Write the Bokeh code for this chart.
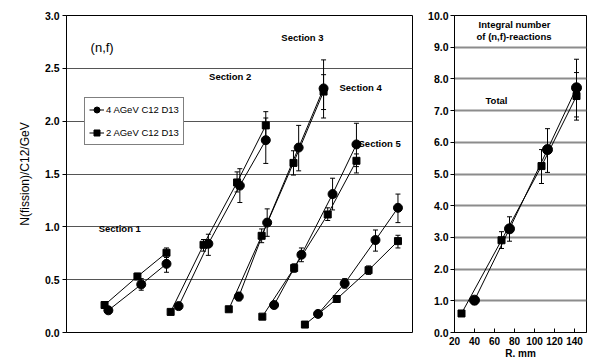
from bokeh.plotting import figure
from bokeh.models import (ColumnDataSource, Range1d, Whisker, TeeHead, Legend,
                          LegendItem, Label, FixedTicker, CustomJSTickFormatter)
from bokeh.layouts import row
from bokeh.embed import file_html
from bokeh.resources import INLINE

FONT = "Liberation Sans"

# ---------------- Left panel data (position along section, arbitrary units) ----
sections = ["Section 1", "Section 2", "Section 3", "Section 4", "Section 5"]

sq_x = [[11.0, 20.5, 28.9],
        [30.1, 39.6, 49.3, 57.6],
        [46.9, 56.4, 65.6, 74.3],
        [56.6, 65.8, 75.5, 83.8],
        [68.9, 78.1, 87.3, 95.8]]
sq_y = [[0.26, 0.53, 0.755],
        [0.195, 0.83, 1.42, 1.96],
        [0.22, 0.915, 1.605, 2.28],
        [0.15, 0.61, 1.117, 1.625],
        [0.075, 0.317, 0.59, 0.865]]
sq_lo = [[None, 0.50, 0.71],
         [None, 0.77, 1.33, 1.83],
         [None, 0.85, 1.49, 2.11],
         [None, 0.57, 1.06, 1.51],
         [None, None, 0.55, 0.80]]
sq_hi = [[None, 0.56, 0.80],
         [None, 0.88, 1.52, 2.09],
         [None, 0.98, 1.72, 2.44],
         [None, 0.65, 1.18, 1.69],
         [None, None, 0.63, 0.92]]

ci_x = [[12.1, 21.6, 28.9],
        [32.4, 41.0, 50.1, 57.6],
        [49.8, 58.0, 67.1, 74.3],
        [60.0, 67.9, 76.9, 83.8],
        [72.7, 80.4, 89.3, 95.8]]
ci_y = [[0.21, 0.455, 0.65],
        [0.25, 0.84, 1.39, 1.82],
        [0.34, 1.04, 1.75, 2.31],
        [0.26, 0.736, 1.31, 1.78],
        [0.176, 0.464, 0.875, 1.18]]
ci_lo = [[None, 0.40, 0.57],
         [None, 0.73, 1.23, 1.60],
         [0.30, 0.91, 1.53, 2.03],
         [None, 0.67, 1.16, 1.57],
         [None, 0.42, 0.77, 1.04]]
ci_hi = [[None, 0.51, 0.73],
         [None, 0.93, 1.55, 2.03],
         [0.38, 1.17, 1.96, 2.58],
         [None, 0.80, 1.46, 1.98],
         [None, 0.51, 0.97, 1.31]]

left_ticks = [0.0, 0.5, 1.0, 1.5, 2.0, 2.5, 3.0]

# ---------------- Right panel data ------------------------------------------
r_sq_x = [27, 67, 107, 142]
r_sq_y = [0.6, 2.91, 5.25, 7.46]
r_sq_lo = [None, 2.65, 4.70, 6.70]
r_sq_hi = [None, 3.18, 5.77, 8.20]
r_ci_x = [40, 75, 113, 142]
r_ci_y = [1.02, 3.27, 5.77, 7.72]
r_ci_lo = [0.88, 2.88, 5.05, 6.80]
r_ci_hi = [1.12, 3.65, 6.43, 8.62]
right_yticks = [0, 1, 2, 3, 4, 5, 6, 7, 8, 9, 10]
right_xticks = [20, 40, 60, 80, 100, 120, 140]

series_names = ["4 AGeV C12 D13", "2 AGeV C12 D13"]


def whisker_source(xs, lo, hi):
    bx, bl, bh = [], [], []
    for x, l, h in zip(xs, lo, hi):
        if l is not None:
            bx.append(x); bl.append(l); bh.append(h)
    return ColumnDataSource(dict(x=bx, lo=bl, hi=bh))


def add_whisker(p, xs, lo, hi):
    src = whisker_source(xs, lo, hi)
    w = Whisker(base="x", lower="lo", upper="hi", source=src,
                line_color="black", line_width=1,
                lower_head=TeeHead(size=5, line_color="black", line_width=1),
                upper_head=TeeHead(size=5, line_color="black", line_width=1))
    p.add_layout(w)


def style_axis(ax):
    ax.major_label_text_font = FONT
    ax.major_label_text_font_style = "bold"
    ax.major_label_text_font_size = "10.5px"
    ax.major_label_text_color = "black"
    ax.axis_line_color = "black"
    ax.major_tick_line_color = "black"
    ax.minor_tick_line_color = None


# ---------------- Left figure ------------------------------------------------
p1 = figure(width=420, height=361, output_backend="svg", toolbar_location=None,
            x_range=Range1d(0, 100), y_range=Range1d(0, 3),
            min_border_left=66, min_border_right=8, min_border_top=14,
            min_border_bottom=29)
p1.xaxis.visible = False
p1.xgrid.visible = False
p1.ygrid.grid_line_color = "#555555"
p1.ygrid.grid_line_width = 1
p1.outline_line_color = "black"
p1.outline_line_alpha = 1
p1.background_fill_color = "white"
p1.border_fill_color = "white"
p1.yaxis.ticker = FixedTicker(ticks=left_ticks)
p1.yaxis.formatter = CustomJSTickFormatter(code="return tick.toFixed(1);")
style_axis(p1.yaxis[0])
p1.yaxis.major_tick_in = 0
p1.yaxis.major_tick_out = 4
p1.yaxis.major_label_standoff = 3
p1.yaxis.axis_label = "N(fission)/C12/GeV"
p1.yaxis.axis_label_text_font = FONT
p1.yaxis.axis_label_text_font_style = "normal"
p1.yaxis.axis_label_text_font_size = "12px"
p1.yaxis.axis_label_text_color = "black"
p1.yaxis.axis_label_standoff = 10

ci_line_r = ci_sc_r = sq_line_r = sq_sc_r = None
for i in range(len(sections)):
    lr = p1.line(sq_x[i], sq_y[i], line_color="black", line_width=1)
    lc = p1.line(ci_x[i], ci_y[i], line_color="black", line_width=1)
    add_whisker(p1, sq_x[i], sq_lo[i], sq_hi[i])
    add_whisker(p1, ci_x[i], ci_lo[i], ci_hi[i])
    sr = p1.scatter(sq_x[i], sq_y[i], marker="square", size=7,
                    fill_color="black", line_color="black")
    cr = p1.scatter(ci_x[i], ci_y[i], marker="circle", size=9,
                    fill_color="black", line_color="black")
    if i == 0:
        sq_line_r, sq_sc_r, ci_line_r, ci_sc_r = lr, sr, lc, cr

legend = Legend(items=[LegendItem(label=series_names[0], renderers=[ci_line_r, ci_sc_r]),
                       LegendItem(label=series_names[1], renderers=[sq_line_r, sq_sc_r])],
                location=(18, 187))
legend.label_text_font = FONT
legend.label_text_font_size = "9.5px"
legend.label_text_color = "black"
legend.border_line_color = "black"
legend.border_line_width = 1
legend.background_fill_color = "white"
legend.background_fill_alpha = 1
legend.glyph_width = 15
legend.glyph_height = 15
legend.label_standoff = 2
legend.spacing = 8
legend.padding = 4
legend.margin = 0
legend.label_height = 15
p1.add_layout(legend)

# section labels
sec_pos = [(15.4, 0.98), (47.3, 2.42), (68.2, 2.79), (85.0, 2.32), (90.5, 1.79)]
for name, (sx, sy) in zip(sections, sec_pos):
    p1.add_layout(Label(x=sx, y=sy, text=name, text_font=FONT, text_font_style="bold",
                        text_font_size="9.5px", text_align="center",
                        text_baseline="middle", text_color="black"))
p1.add_layout(Label(x=10.3, y=2.7, text="(n,f)", text_font=FONT, text_font_size="13px",
                    text_align="center", text_baseline="middle", text_color="black"))

# ---------------- Right figure -----------------------------------------------
p2 = figure(width=170, height=361, output_backend="svg", toolbar_location=None,
            x_range=Range1d(20, 152), y_range=Range1d(0, 10),
            min_border_left=34, min_border_right=4, min_border_top=15,
            min_border_bottom=29)
p2.xgrid.visible = False
p2.ygrid.grid_line_color = "#8c8c8c"
p2.ygrid.grid_line_width = 2
p2.outline_line_color = "black"
p2.outline_line_alpha = 1
p2.yaxis.ticker = FixedTicker(ticks=right_yticks)
p2.yaxis.formatter = CustomJSTickFormatter(code="return tick.toFixed(1);")
p2.xaxis.ticker = FixedTicker(ticks=right_xticks)
style_axis(p2.yaxis[0])
style_axis(p2.xaxis[0])
p2.xaxis.major_label_text_font_size = "10px"
p2.yaxis.major_tick_in = 0
p2.yaxis.major_tick_out = 4
p2.yaxis.major_label_standoff = 2
p2.xaxis.major_tick_in = 4
p2.xaxis.major_tick_out = 0
p2.xaxis.major_label_standoff = 4
p2.xaxis.axis_label = "R. mm"
p2.xaxis.axis_label_text_font = FONT
p2.xaxis.axis_label_text_font_style = "bold"
p2.xaxis.axis_label_text_font_size = "10px"
p2.xaxis.axis_label_text_color = "black"
p2.xaxis.axis_label_standoff = 0

p2.line(r_sq_x, r_sq_y, line_color="black", line_width=1)
p2.line(r_ci_x, r_ci_y, line_color="black", line_width=1)
add_whisker(p2, r_sq_x, r_sq_lo, r_sq_hi)
add_whisker(p2, r_ci_x, r_ci_lo, r_ci_hi)
p2.scatter(r_sq_x, r_sq_y, marker="square", size=7, fill_color="black", line_color="black")
p2.scatter(r_ci_x, r_ci_y, marker="circle", size=10, fill_color="black", line_color="black")

p2.add_layout(Label(x=80, y=9.73, text="Integral number", text_font=FONT,
                    text_font_style="bold", text_font_size="9.5px", text_align="center",
                    text_baseline="middle", text_color="black"))
p2.add_layout(Label(x=79.5, y=9.34, text="of (n,f)-reactions", text_font=FONT,
                    text_font_style="bold", text_font_size="9.5px", text_align="center",
                    text_baseline="middle", text_color="black"))
p2.add_layout(Label(x=62, y=7.33, text="Total", text_font=FONT,
                    text_font_style="bold", text_font_size="9.5px", text_align="center",
                    text_baseline="middle", text_color="black"))

layout = row(p1, p2)
open("out.html", "w").write(file_html(layout, INLINE))
